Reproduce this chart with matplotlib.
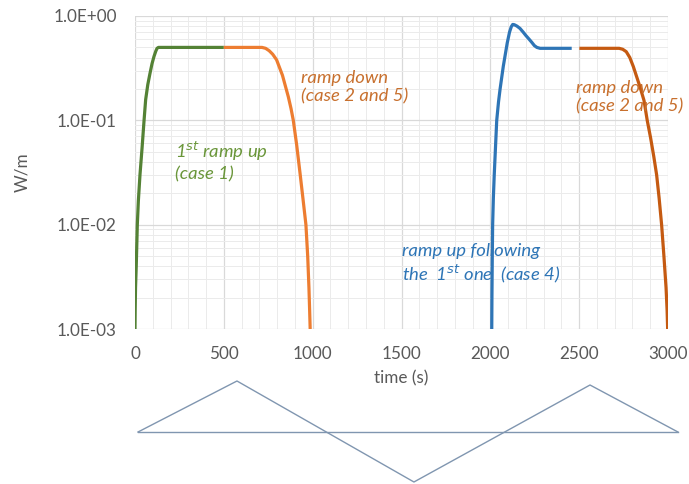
import numpy as np
import matplotlib
matplotlib.use('Agg')
import matplotlib.pyplot as plt
from matplotlib.ticker import LogLocator, MultipleLocator, FixedLocator

plt.rcParams['font.family'] = ['Lato', 'DejaVu Sans']

## dati
# 1st ramp up (case 1)
t_up1 = [0, 1, 3, 7, 13, 19, 28, 40, 51, 60, 72, 84, 96, 107, 117, 124, 132, 500]
p_up1 = [1e-3, 1.5e-3, 2.5e-3, 4e-3, 1e-2, 1.7e-2, 3e-2, 5.5e-2, 0.1, 0.158, 0.22,
         0.28, 0.35, 0.41, 0.46, 0.49, 0.5, 0.5]

# ramp down (case 2 and 5), primo
t_dn1 = [500, 715, 735, 755, 775, 797, 830, 863, 878, 891, 910, 929, 945, 962,
         972, 979, 983, 986]
p_dn1 = [0.5, 0.5, 0.49, 0.465, 0.43, 0.38, 0.27, 0.168, 0.13, 0.1, 0.058, 0.031,
         0.018, 0.01, 0.005, 0.0025, 0.0015, 0.001]

# ramp up following the 1st one (case 4)
t_up2 = [2008, 2009, 2011, 2013, 2017, 2022, 2029, 2036, 2046, 2055, 2073, 2095,
         2108, 2118, 2126, 2135, 2150, 2167, 2185, 2200, 2218, 2233, 2248, 2262,
         2280, 2458]
p_up2 = [1e-3, 2e-3, 5e-3, 1e-2, 1.8e-2, 3e-2, 5.5e-2, 0.1, 0.15, 0.2, 0.33, 0.55,
         0.7, 0.79, 0.83, 0.825, 0.8, 0.76, 0.7, 0.65, 0.6, 0.56, 0.52, 0.5,
         0.49, 0.49]

# ramp down (case 2 and 5), secondo
t_dn2 = [2501, 2725, 2745, 2765, 2785, 2805, 2842, 2865, 2883, 2902, 2920, 2936,
         2950, 2964, 2977, 2989, 2995, 2998]
p_dn2 = [0.49, 0.49, 0.48, 0.455, 0.4, 0.327, 0.21, 0.155, 0.1, 0.068, 0.045, 0.03,
         0.018, 0.01, 0.005, 0.0025, 0.0015, 0.001]

# schema della corrente (onda triangolare sotto il grafico)
t_tri = [17, 574, 1570, 2561, 3056]
i_tri = [0, 1.02, -1.0, 0.94, 0]
t_base = [17, 3056]
i_base = [0, 0]

xticks = [0, 500, 1000, 1500, 2000, 2500, 3000]
yticks = [1e-3, 1e-2, 1e-1, 1e0]
ylabels = ['1.0E-03', '1.0E-02', '1.0E-01', '1.0E+00']

W, H = 689, 484
fig = plt.figure(figsize=(W/100, H/100), dpi=100)
ax = fig.add_axes([135/W, 1-329/H, 533/W, 313/H])

ax.set_yscale('log')
ax.set_xlim(0, 3000)
ax.set_ylim(1e-3, 1)

ax.plot(t_up1, p_up1, color='#548235', lw=2.3, solid_capstyle='butt', solid_joinstyle='round')
ax.plot(t_dn1, p_dn1, color='#ED7D31', lw=2.3, solid_capstyle='butt', solid_joinstyle='round')
ax.plot(t_up2, p_up2, color='#2E75B6', lw=2.3, solid_capstyle='butt', solid_joinstyle='round')
ax.plot(t_dn2, p_dn2, color='#C55A11', lw=2.3, solid_capstyle='butt', solid_joinstyle='round')

# griglia
ax.xaxis.set_major_locator(FixedLocator(xticks))
ax.xaxis.set_minor_locator(MultipleLocator(100))
ax.yaxis.set_major_locator(FixedLocator(yticks))
ax.yaxis.set_minor_locator(LogLocator(base=10, subs=np.arange(2, 10)))
ax.grid(True, which='major', color='#D9D9D9', lw=0.9)
ax.grid(True, which='minor', color='#EBEBEB', lw=0.7)
ax.set_axisbelow(True)
for s in ax.spines.values():
    s.set_visible(False)
ax.tick_params(which='both', length=0, colors='#595959', labelsize=12.3)
ax.tick_params(axis='x', pad=12)
ax.tick_params(axis='y', pad=13)
ax.set_xticklabels([str(v) for v in xticks])
ax.set_yticklabels(ylabels)
ax.yaxis.set_minor_formatter(plt.NullFormatter())
ax.set_xlabel('time (s)', color='#595959', fontsize=12.3, labelpad=6)
ax.set_ylabel('W/m', color='#595959', fontsize=12.3, labelpad=17)

# annotazioni
fs = 13.3
ax.text(225, 0.0407, '1$^{st}$ ramp up\n(case 1)', color='#6A963A', fontsize=fs,
        style='italic', va='center', ha='left', linespacing=1.2)
ax.text(935, 0.206, 'ramp down\n(case 2 and 5)', color='#C8702E', fontsize=fs,
        style='italic', va='center', ha='left', linespacing=1.2)
ax.text(2480, 0.167, 'ramp down\n(case 2 and 5)', color='#C8702E', fontsize=fs,
        style='italic', va='center', ha='left', linespacing=1.2)
ax.text(1505, 0.0042, 'ramp up following\nthe  1$^{st}$ one  (case 4)', color='#2E75B6',
        fontsize=fs, style='italic', va='center', ha='left', linespacing=1.2)

# schema della corrente
ax2 = fig.add_axes([135/W, 1-482/H, 533/W, 100/H])
ax2.set_xlim(0, 3000)
ax2.set_ylim(-1, 1)
ax2.plot(t_tri, i_tri, color='#8096B0', lw=1.0, clip_on=False)
ax2.plot(t_base, i_base, color='#8096B0', lw=1.0, clip_on=False)
ax2.axis('off')

fig.savefig('out.png', dpi=100)
